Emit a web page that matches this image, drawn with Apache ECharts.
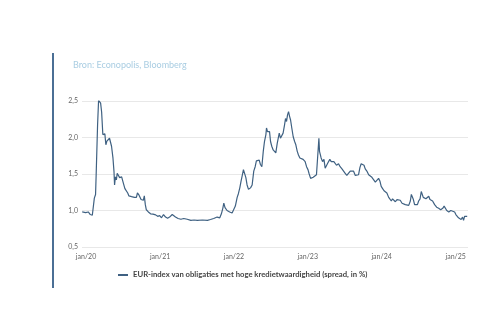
<!DOCTYPE html>
<html>
<head>
<meta charset="utf-8">
<script src="https://cdn.jsdelivr.net/npm/echarts@6/dist/echarts.min.js"></script>
<style>html,body{margin:0;padding:0;background:#fff;}#c{width:500px;height:333px;}</style>
</head>
<body>
<div id="c"></div>
<script>
var seriesName = 'EUR-index van obligaties met hoge kredietwaardigheid (spread, in %)';
var sourceText = 'Bron: Econopolis, Bloomberg';
var yTicks = [0.5, 1.0, 1.5, 2.0, 2.5];
var xTickDates = ['2020-01-01', '2021-01-01', '2022-01-01', '2023-01-01', '2024-01-01', '2025-01-01'];
var dates = [
 '2019-12-13','2019-12-30','2020-01-12','2020-01-22','2020-01-27','2020-02-01','2020-02-06','2020-02-11','2020-02-17','2020-02-20',
 '2020-02-27','2020-03-03','2020-03-08','2020-03-13','2020-03-18','2020-03-24','2020-03-29','2020-04-03','2020-04-08','2020-04-13',
 '2020-04-20','2020-04-26','2020-05-01','2020-05-06','2020-05-13','2020-05-18','2020-05-21','2020-05-25','2020-05-30','2020-06-03',
 '2020-06-08','2020-06-15','2020-06-25','2020-07-01','2020-07-11','2020-07-18','2020-07-25','2020-07-31','2020-08-13','2020-08-27',
 '2020-09-06','2020-09-11','2020-09-19','2020-09-29','2020-10-05','2020-10-10','2020-10-15','2020-10-20','2020-10-25','2020-11-04',
 '2020-11-15','2020-11-27','2020-12-10','2020-12-20','2020-12-30','2021-01-08','2021-01-18','2021-01-28','2021-02-07','2021-02-17',
 '2021-03-02','2021-03-10','2021-03-18','2021-03-31','2021-04-14','2021-04-28','2021-05-15','2021-06-02','2021-06-18','2021-07-04',
 '2021-07-29','2021-08-23',
 '2021-09-07','2021-09-23','2021-10-10','2021-10-23','2021-10-31','2021-11-07','2021-11-12','2021-11-18','2021-11-28','2021-12-11',
 '2021-12-23','2021-12-31','2022-01-08','2022-01-17','2022-01-23','2022-01-30','2022-02-05','2022-02-12','2022-02-17','2022-02-22',
 '2022-03-01','2022-03-07','2022-03-14','2022-03-24','2022-04-01','2022-04-09','2022-04-16','2022-04-22','2022-04-29','2022-05-06',
 '2022-05-12','2022-05-19','2022-05-26','2022-06-01','2022-06-08','2022-06-11','2022-06-16','2022-06-21','2022-06-26','2022-07-01',
 '2022-07-07','2022-07-14','2022-07-20','2022-07-27','2022-08-03','2022-08-09','2022-08-13','2022-08-19','2022-08-26','2022-09-01',
 '2022-09-08','2022-09-13','2022-09-18','2022-09-23','2022-09-28','2022-10-03','2022-10-08','2022-10-14','2022-10-21','2022-10-28',
 '2022-11-03','2022-11-10','2022-11-16','2022-11-23','2022-11-30','2022-12-09','2022-12-19','2022-12-26','2023-01-02','2023-01-08',
 '2023-01-15','2023-01-22','2023-01-28','2023-02-04','2023-02-13','2023-02-20','2023-02-25','2023-02-28','2023-03-03','2023-03-08',
 '2023-03-15','2023-03-22','2023-03-28','2023-04-04','2023-04-10','2023-04-20','2023-04-27','2023-05-04','2023-05-10','2023-05-17',
 '2023-05-23',
 '2023-06-02','2023-06-10','2023-06-19','2023-06-27','2023-07-05','2023-07-13','2023-07-22','2023-07-30','2023-08-07','2023-08-15',
 '2023-08-24','2023-09-01','2023-09-09','2023-09-16','2023-09-22','2023-09-29','2023-10-06','2023-10-12','2023-10-20','2023-10-29',
 '2023-11-06','2023-11-14','2023-11-22','2023-12-01','2023-12-09','2023-12-17','2023-12-24','2023-12-30','2024-01-06','2024-01-13',
 '2024-01-19','2024-01-27','2024-02-05','2024-02-13','2024-02-18','2024-02-24','2024-03-02','2024-03-09','2024-03-17','2024-03-25',
 '2024-04-02','2024-04-11','2024-04-19','2024-04-27','2024-05-05','2024-05-14','2024-05-22','2024-05-27','2024-06-01','2024-06-06',
 '2024-06-12','2024-06-19','2024-06-26','2024-07-02','2024-07-09','2024-07-15','2024-07-20','2024-07-25','2024-08-01','2024-08-07',
 '2024-08-14','2024-08-21','2024-08-27','2024-09-03','2024-09-09','2024-09-19','2024-09-29','2024-10-09','2024-10-19','2024-10-29',
 '2024-11-05','2024-11-11','2024-11-18','2024-11-28','2024-12-08','2024-12-17','2024-12-27','2025-01-02','2025-01-09','2025-01-15',
 '2025-01-22','2025-01-28','2025-02-04','2025-02-09','2025-02-14','2025-02-20','2025-02-27'
];
var spread = [
 0.98,0.97,0.98,0.945,0.96,0.935,0.94,1.17,1.22,1.49,
 2.17,2.51,2.53,2.47,2.35,2.04,2.02,2.05,1.90,1.95,
 1.93,1.99,1.97,1.88,1.72,1.54,1.35,1.46,1.42,1.51,
 1.49,1.45,1.46,1.40,1.30,1.31,1.24,1.20,1.19,1.18,
 1.18,1.24,1.21,1.15,1.17,1.14,1.20,1.08,1.01,0.98,
 0.955,0.95,0.94,0.92,0.93,0.90,0.945,0.91,0.895,0.91,
 0.945,0.96,0.91,0.89,0.88,0.89,0.88,0.865,0.87,0.865,
 0.87,0.865,
 0.877,0.89,0.91,0.90,0.955,1.03,1.10,1.04,1.00,0.98,
 0.965,0.99,1.06,1.18,1.23,1.31,1.40,1.49,1.56,1.54,
 1.45,1.35,1.29,1.31,1.35,1.54,1.60,1.68,1.67,1.69,
 1.63,1.60,1.81,1.945,2.04,2.13,2.08,2.06,2.08,1.945,
 1.88,1.83,1.81,1.79,1.92,1.945,2.06,1.99,1.97,2.06,
 2.17,2.26,2.22,2.31,2.355,2.29,2.24,2.13,2.01,1.945,
 1.90,1.81,1.76,1.72,1.70,1.70,1.67,1.60,1.56,1.50,
 1.44,1.42,1.455,1.47,1.49,1.51,1.99,1.81,1.83,1.72,
 1.67,1.70,1.58,1.60,1.65,1.70,1.67,1.65,1.67,1.66,
 1.62,
 1.64,1.60,1.57,1.54,1.51,1.48,1.50,1.54,1.56,1.54,
 1.48,1.455,1.49,1.59,1.64,1.65,1.62,1.57,1.54,1.49,
 1.47,1.455,1.44,1.39,1.41,1.44,1.40,1.33,1.30,1.27,
 1.28,1.24,1.18,1.16,1.13,1.16,1.14,1.12,1.15,1.13,
 1.14,1.10,1.09,1.08,1.07,1.07,1.13,1.22,1.195,1.15,
 1.08,1.07,1.08,1.13,1.16,1.26,1.22,1.18,1.195,1.16,
 1.18,1.195,1.15,1.16,1.13,1.08,1.045,1.03,1.01,1.03,
 1.06,1.045,1.00,0.98,1.00,0.99,0.98,0.945,0.92,0.90,
 0.91,0.877,0.91,0.865,0.92,0.91,0.92
];

function ts(d) { return Date.UTC(+d.slice(0, 4), +d.slice(5, 7) - 1, +d.slice(8, 10)); }
var data = dates.map(function (d, i) { return [ts(d), spread[i]]; });
var chart = echarts.init(document.getElementById('c'), null, {renderer: 'canvas'});
var FONT = 'Lato';
chart.setOption({
  animation: false,
  backgroundColor: '#ffffff',
  title: {
    text: sourceText, left: 68, top: 56,
    textStyle: {fontFamily: FONT, fontSize: 9, fontWeight: 'normal', color: '#a9cde2'}
  },
  legend: {
    left: 113, top: 266, icon: 'rect', itemWidth: 10, itemHeight: 2, itemGap: 3,
    textStyle: {fontFamily: FONT, fontSize: 7.7, fontWeight: 'bold', color: '#444'},
    data: [seriesName]
  },
  graphic: [{
    type: 'line', shape: {x1: 53, y1: 53, x2: 53, y2: 288},
    style: {stroke: '#4b6f95', lineWidth: 2}
  }],
  grid: {left: 82, right: 32, top: 101, bottom: 86},
  xAxis: {
    type: 'value',
    min: ts('2019-12-12'), max: ts('2025-03-03'),
    axisLine: {show: false}, axisTick: {show: false}, splitLine: {show: false},
    axisLabel: {
      customValues: xTickDates.map(ts),
      fontFamily: FONT, fontSize: 7, color: '#666', margin: 6,
      formatter: function (v) { var dt = new Date(v); return 'jan/' + String(dt.getUTCFullYear()).slice(2); }
    }
  },
  yAxis: {
    type: 'value', min: yTicks[0], max: yTicks[yTicks.length - 1], interval: 0.5,
    axisLine: {show: false}, axisTick: {show: false},
    splitLine: {lineStyle: {color: '#e8e8e8', width: 1}},
    axisLabel: {
      fontFamily: FONT, fontSize: 7, color: '#666', margin: 4,
      formatter: function (v) { return v.toFixed(1).replace('.', ','); }
    }
  },
  series: [{
    name: seriesName, type: 'line', data: data, showSymbol: false,
    lineStyle: {color: '#3f6182', width: 1.2}, itemStyle: {color: '#3f6182'}
  }]
});
</script>
</body>
</html>
